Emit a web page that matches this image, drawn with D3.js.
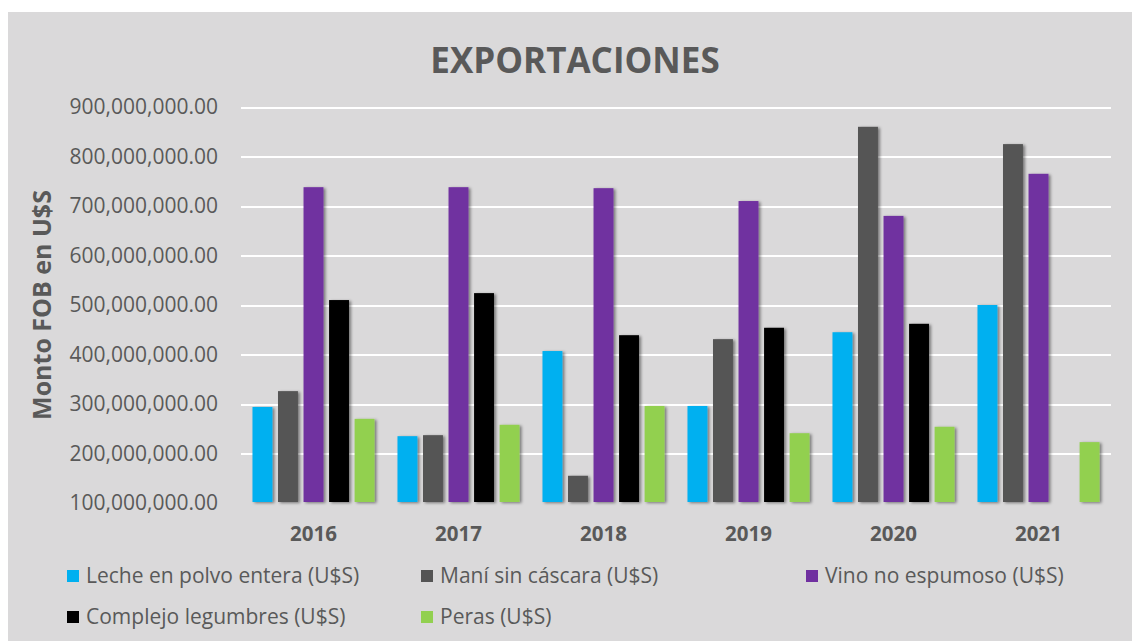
<!DOCTYPE html>
<html lang="es">
<head>
  <meta charset="utf-8">
  <title>Exportaciones</title>
  <script src="https://d3js.org/d3.v7.min.js"></script>
  <style>
    body { margin: 0; background: #fff; font-family: 'Open Sans', sans-serif; }
    .grid line { stroke: #fff; stroke-width: 2px; shape-rendering: crispEdges; }
    .grid path { display: none; }
    .tick-label { fill: #595959; font-size: 21px; }
    .year { fill: #595959; font-size: 20.5px; font-weight: bold; }
    .legend text { fill: #595959; font-size: 21px; }
  </style>
</head>
<body>
<div id="chart"></div>
<script>
  // data
  var years = ['2016', '2017', '2018', '2019', '2020', '2021'];
  var seriesNames = ['Leche en polvo entera (U$S)', 'Maní sin cáscara (U$S)', 'Vino no espumoso (U$S)', 'Complejo legumbres (U$S)', 'Peras (U$S)'];
  var seriesColors = ['#00b0f0', '#545454', '#7030a0', '#000000', '#92d050'];
  var leche = [294e6, 235e6, 407e6, 296e6, 445e6, 500e6];
  var mani = [326e6, 237e6, 155e6, 431e6, 860e6, 825e6];
  var vino = [738e6, 738e6, 736e6, 710e6, 680e6, 765e6];
  var legumbres = [510e6, 524e6, 439e6, 454e6, 462e6, null];
  var peras = [270e6, 258e6, 296e6, 241e6, 254e6, 223e6];
  var yTicks = [100e6, 200e6, 300e6, 400e6, 500e6, 600e6, 700e6, 800e6, 900e6];

  var values = [leche, mani, vino, legumbres, peras];

  var W = 1132, H = 641;
  var plot = { left: 241, right: 1111, top: 107, bottom: 503 };

  var svg = d3.select('#chart').append('svg')
    .attr('width', W)
    .attr('height', H);

  var defs = svg.append('defs');
  defs.append('filter')
    .attr('id', 'shadow')
    .attr('x', '-30%').attr('y', '-10%').attr('width', '160%').attr('height', '130%')
    .append('feDropShadow')
    .attr('dx', 2).attr('dy', 1)
    .attr('stdDeviation', 1.6)
    .attr('flood-color', '#000')
    .attr('flood-opacity', 0.45);

  // chart panel
  svg.append('rect')
    .attr('x', 8).attr('y', 12)
    .attr('width', W - 8).attr('height', H - 12)
    .attr('fill', '#dad9da');

  var yScale = d3.scaleLinear()
    .domain([100e6, 900e6])
    .range([plot.bottom, plot.top]);

  var x0 = d3.scaleBand()
    .domain(years)
    .range([plot.left, plot.right])
    .padding(0);

  var x1 = d3.scaleBand()
    .domain(d3.range(seriesNames.length))
    .range([0, x0.bandwidth()])
    .paddingInner(0.22)
    .paddingOuter(0.45);

  // gridlines
  var grid = svg.append('g')
    .attr('class', 'grid')
    .attr('transform', 'translate(' + plot.left + ',0)')
    .call(d3.axisLeft(yScale)
      .tickValues(yTicks.slice(1))
      .tickSize(-(plot.right - plot.left))
      .tickFormat(''));

  // tick labels
  var fmt = d3.format(',.2f');
  svg.append('g')
    .selectAll('text')
    .data(yTicks)
    .enter()
    .append('text')
    .attr('class', 'tick-label')
    .attr('x', 218)
    .attr('y', function(d) { return yScale(d); })
    .attr('dy', '0.35em')
    .attr('text-anchor', 'end')
    .text(function(d) { return fmt(d); });

  // bars
  var groups = svg.append('g')
    .selectAll('g')
    .data(years)
    .enter()
    .append('g')
    .attr('transform', function(d) { return 'translate(' + x0(d) + ',0)'; });

  groups.selectAll('rect')
    .data(function(d, i) {
      return values.map(function(s, k) { return { k: k, v: s[i] }; })
        .filter(function(e) { return e.v != null; });
    })
    .enter()
    .append('rect')
    .attr('x', function(d) { return x1(d.k); })
    .attr('y', function(d) { return yScale(d.v); })
    .attr('width', x1.bandwidth())
    .attr('height', function(d) { return plot.bottom - 1 - yScale(d.v); })
    .attr('fill', function(d) { return seriesColors[d.k]; })
    .attr('filter', 'url(#shadow)');

  // year labels
  svg.append('g')
    .selectAll('text')
    .data(years)
    .enter()
    .append('text')
    .attr('class', 'year')
    .attr('x', function(d) { return x0(d) + x0.bandwidth() / 2; })
    .attr('y', 541)
    .attr('text-anchor', 'middle')
    .text(function(d) { return d; });

  // title
  svg.append('text')
    .attr('x', 575)
    .attr('y', 73)
    .attr('text-anchor', 'middle')
    .attr('fill', '#595959')
    .style('font-size', '35px')
    .style('font-weight', 'bold')
    .text('EXPORTACIONES');

  // y axis title
  svg.append('text')
    .attr('transform', 'translate(51,' + 305 + ') rotate(-90)')
    .attr('text-anchor', 'middle')
    .attr('fill', '#595959')
    .style('font-size', '25px')
    .style('font-weight', 'bold')
    .text('Monto FOB en U$S');

  // legend
  var colX = [67, 421, 806];
  var rowY = [576, 617];
  var legend = svg.append('g')
    .attr('class', 'legend')
    .selectAll('g')
    .data(seriesNames)
    .enter()
    .append('g')
    .attr('transform', function(d, i) {
      return 'translate(' + colX[i % 3] + ',' + rowY[Math.floor(i / 3)] + ')';
    });

  legend.append('rect')
    .attr('x', 0).attr('y', -6)
    .attr('width', 12).attr('height', 12)
    .attr('fill', function(d, i) { return seriesColors[i]; });

  legend.append('text')
    .attr('x', 19)
    .attr('dy', '0.35em')
    .text(function(d) { return d; });
</script>
</body>
</html>
